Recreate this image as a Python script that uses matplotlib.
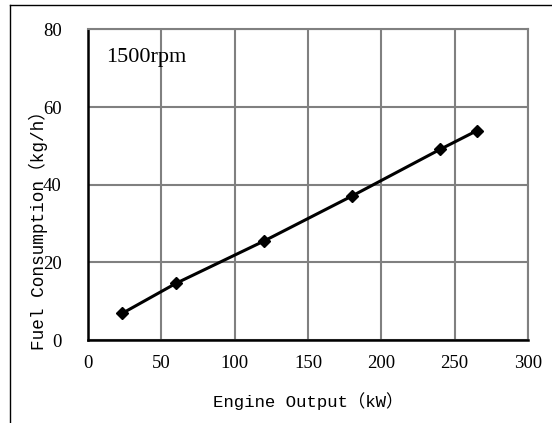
import matplotlib
matplotlib.use('Agg')
import matplotlib.pyplot as plt
from matplotlib.lines import Line2D

# engine output (kW) and fuel consumption (kg/h) at 1500rpm
output_kw = [23.5, 60, 120, 180, 240, 265]
fuel_kgh = [6.9, 14.6, 25.5, 37.1, 49.1, 53.9]
x_ticks = [0, 50, 100, 150, 200, 250, 300]
y_ticks = [0, 20, 40, 60, 80]

label_font = ['Liberation Mono', 'Noto Sans CJK SC']
num_font = 'Liberation Serif'

fig = plt.figure(figsize=(5.52, 4.23), dpi=100)
ax = fig.add_axes([88/552, 1-340/423, 440/552, 310.5/423])

ax.plot(output_kw, fuel_kgh, color='black', lw=2.2, marker='D', ms=6.5, mec='black', mew=1, zorder=3)

ax.set_xlim(0, 300)
ax.set_ylim(0, 80)
ax.set_xticks(x_ticks)
ax.set_yticks(y_ticks)
ax.grid(True, color='#808080', lw=1.5)
ax.set_axisbelow(True)
ax.tick_params(length=0)
ax.tick_params(axis='x', pad=11)
ax.tick_params(axis='y', pad=19)
for t in ax.get_xticklabels() + ax.get_yticklabels():
    t.set_fontfamily(num_font)
    t.set_fontsize(13.5)

for s in ['top', 'right']:
    ax.spines[s].set_color('#808080')
    ax.spines[s].set_linewidth(1.5)
for s in ['left', 'bottom']:
    ax.spines[s].set_color('black')
    ax.spines[s].set_linewidth(1.8)

ax.text(0.041, 0.91, '1500rpm', transform=ax.transAxes, fontsize=16,
        family=num_font, ha='left', va='center')

fig.text(308/552, 1-401/423, 'Engine Output（kW）', family=label_font,
         fontsize=12.5, ha='center', va='center')
fig.text(38/552, 1-226/423, 'Fuel Consumption（kg/h）', family=label_font,
         fontsize=12.8, ha='center', va='center', rotation=90)

# outer frame (only left and top visible in the picture)
fig.add_artist(Line2D([10/552, 10/552], [0, 1-5/423], color='black', lw=1))
fig.add_artist(Line2D([10/552, 1], [1-5/423, 1-5/423], color='black', lw=1))

fig.savefig('out.png', dpi=100)
